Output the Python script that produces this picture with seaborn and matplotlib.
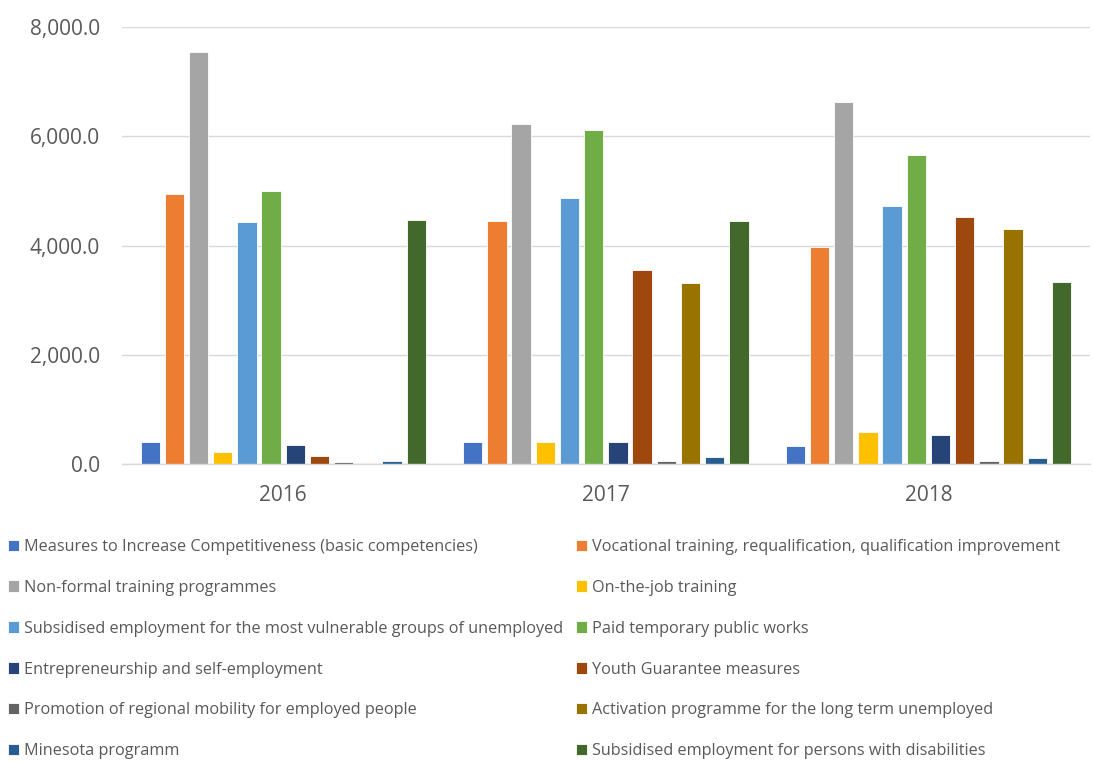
import matplotlib
matplotlib.use("Agg")
import matplotlib.pyplot as plt
from matplotlib.ticker import FuncFormatter
import pandas as pd
import seaborn as sns

YEARS = ["2016", "2017", "2018"]
MEASURES = [
    "Measures to Increase Competitiveness (basic competencies)",
    "Vocational training, requalification, qualification improvement",
    "Non-formal training programmes",
    "On-the-job training",
    "Subsidised employment for the most vulnerable groups of unemployed",
    "Paid temporary public works",
    "Entrepreneurship and self-employment",
    "Youth Guarantee measures",
    "Promotion of regional mobility for employed people",
    "Activation programme for the long term unemployed",
    "Minesota programm",
    "Subsidised employment for persons with disabilities",
]
VALUES_2016 = [400, 4940, 7545, 220, 4425, 4995, 350, 145, 45, 25, 62, 4470]
VALUES_2017 = [412, 4445, 6220, 412, 4870, 6120, 412, 3560, 64, 3325, 132, 4450]
VALUES_2018 = [340, 3970, 6635, 590, 4725, 5660, 535, 4525, 64, 4305, 120, 3330]

COLORS = ["#4472C4", "#ED7D31", "#A5A5A5", "#FFC000", "#5B9BD5", "#70AD47",
          "#264478", "#9E480E", "#636363", "#997300", "#255E91", "#43682B"]
TEXT = "#595959"
GRID = "#D9D9D9"

rows = []
for year, vals in zip(YEARS, [VALUES_2016, VALUES_2017, VALUES_2018]):
    for m, v in zip(MEASURES, vals):
        rows.append({"year": year, "measure": m, "value": v})
df = pd.DataFrame(rows)

sns.set_style("white")
plt.rcParams["font.family"] = ["Open Sans", "DejaVu Sans"]

fig = plt.figure(figsize=(10.93, 7.61), dpi=100)
ax = fig.add_axes([0.1116, 0.390, 0.8854, 0.5745])

sns.barplot(data=df, x="year", y="value", hue="measure", hue_order=MEASURES,
            palette=COLORS, width=0.9, gap=0.2, saturation=1,
            edgecolor="white", linewidth=0.6, ax=ax)

handles, labels = ax.get_legend_handles_labels()
ax.get_legend().remove()

ax.set_ylim(0, 8000)
ax.set_xlim(-0.5, 2.5)
ax.set_yticks(range(0, 8001, 2000))
ax.yaxis.set_major_formatter(FuncFormatter(lambda v, _: f"{v:,.1f}"))
ax.grid(axis="y", color=GRID, lw=1)
ax.set_axisbelow(True)
for s in ["left", "right", "top"]:
    ax.spines[s].set_visible(False)
ax.spines["bottom"].set_color(GRID)
ax.spines["bottom"].set_linewidth(1)
ax.tick_params(axis="both", length=0, labelsize=15, colors=TEXT)
ax.tick_params(axis="y", pad=16)
ax.tick_params(axis="x", pad=15)
ax.set_xlabel("")
ax.set_ylabel("")

leg_kw = dict(frameon=False, fontsize=11.7, labelcolor=TEXT, handlelength=0.7,
              handleheight=0.7, handletextpad=0.3, labelspacing=1.53,
              borderpad=0, borderaxespad=0, loc="upper left")
left_idx = list(range(0, 12, 2))
right_idx = list(range(1, 12, 2))
fig.legend([handles[i] for i in left_idx], [labels[i] for i in left_idx],
           bbox_to_anchor=(8 / 1093, 1 - 539 / 761), **leg_kw)
fig.legend([handles[i] for i in right_idx], [labels[i] for i in right_idx],
           bbox_to_anchor=(576 / 1093, 1 - 539 / 761), **leg_kw)

fig.savefig("out.png", dpi=100)
